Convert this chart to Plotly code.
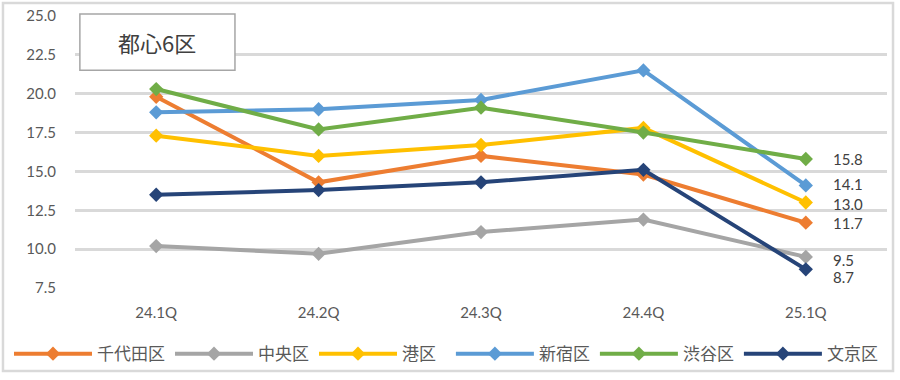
import plotly.graph_objects as go

categories = ["24.1Q", "24.2Q", "24.3Q", "24.4Q", "25.1Q"]
names = ["千代田区", "中央区", "港区", "新宿区", "渋谷区", "文京区"]
chiyoda = [19.8, 14.3, 16.0, 14.8, 11.7]
chuo = [10.2, 9.7, 11.1, 11.9, 9.5]
minato = [17.3, 16.0, 16.7, 17.8, 13.0]
shinjuku = [18.8, 19.0, 19.6, 21.5, 14.1]
shibuya = [20.3, 17.7, 19.1, 17.5, 15.8]
bunkyo = [13.5, 13.8, 14.3, 15.1, 8.7]
series = [chiyoda, chuo, minato, shinjuku, shibuya, bunkyo]
colors = ["#ED7D31", "#A5A5A5", "#FFC000", "#5B9BD5", "#70AD47", "#264478"]
legend_groups = ["legend", "legend", "legend", "legend2", "legend2", "legend2"]
label_yshift = [0, -3, -1, 1, 0, -8]
y_ticks = [7.5, 10.0, 12.5, 15.0, 17.5, 20.0, 22.5, 25.0]
title_text = "都心6区"

fig = go.Figure()
for nm, vals, col, lg in zip(names, series, colors, legend_groups):
    fig.add_trace(go.Scatter(
        x=categories, y=vals, name=nm, mode="lines+markers",
        line=dict(color=col, width=4),
        marker=dict(symbol="diamond", size=11, color=col),
        legend=lg,
    ))

annotations = []
for vals, dy in zip(series, label_yshift):
    annotations.append(dict(
        x=categories[-1], y=vals[-1], xref="x", yref="y",
        text=f"{vals[-1]:.1f}", showarrow=False, xanchor="left",
        xshift=25, yshift=dy,
        font=dict(family="Lato, Liberation Sans", size=15, color="#404040"),
    ))
annotations.append(dict(
    x=0.101, y=0.904, xref="paper", yref="paper", text=title_text,
    showarrow=False, xanchor="center", yanchor="middle",
    font=dict(family="Noto Sans CJK JP", size=22, color="#404040"),
))
fig.update_layout(annotations=annotations)

legend_common = dict(
    orientation="h", xref="container", xanchor="left",
    y=-0.243, yanchor="middle",
    font=dict(family="Noto Sans CJK JP", size=17, color="#595959"),
    itemwidth=78, bgcolor="rgba(0,0,0,0)", traceorder="normal",
)

fig.update_layout(
    width=900, height=380,
    margin=dict(l=75, r=13, t=16, b=92, autoexpand=False),
    paper_bgcolor="white", plot_bgcolor="white",
    showlegend=True,
    legend=dict(x=0.01, **legend_common),
    legend2=dict(x=0.501, **legend_common),
    xaxis=dict(
        range=[-0.5, 4.5], automargin=False,
        showgrid=False, zeroline=False, showline=False, ticks="",
        tickfont=dict(family="Lato, Liberation Sans", size=15, color="#595959"),
        ticklabelstandoff=14,
    ),
    yaxis=dict(
        range=[7.5, 25.0], tickvals=y_ticks, ticktext=[f"{v:.1f}" for v in y_ticks],
        automargin=False,
        showgrid=True, gridcolor="#D9D9D9", gridwidth=2.5, zeroline=False,
        showline=False, ticks="",
        tickfont=dict(family="Lato, Liberation Sans", size=15, color="#595959"),
        ticklabelstandoff=18,
    ),
    shapes=[
        dict(type="rect", xref="paper", yref="paper",
             x0=-0.0887, x1=1.0074, y0=-0.305, y1=1.0478,
             line=dict(color="#D9D9D9", width=2.5), fillcolor="rgba(0,0,0,0)", layer="below"),
        dict(type="rect", xref="paper", yref="paper",
             x0=0.006, x1=0.197, y0=0.801, y1=1.007,
             line=dict(color="#A6A6A6", width=1.5), fillcolor="white", layer="above"),
    ],
)

fig.write_html("out.html", config={"displayModeBar": False},
               post_script="document.body.style.margin='0';document.body.style.overflow='hidden';")
